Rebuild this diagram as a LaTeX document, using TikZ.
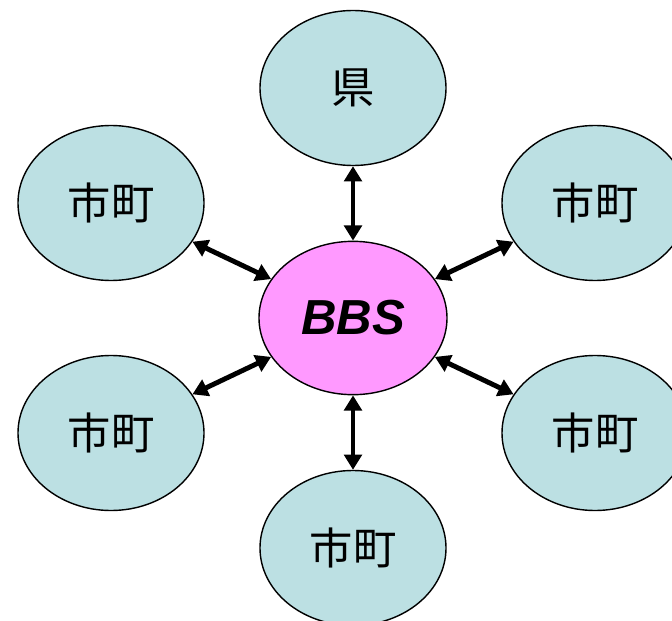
\documentclass[tikz,border=0pt]{standalone}
\usepackage{fontspec}
\setsansfont{Liberation Sans}
\newfontfamily\jpfont{Noto Sans CJK JP}
\usetikzlibrary{shapes.geometric,arrows.meta}

\tikzset{
    kumi/.style={ellipse, draw, line width=1.2pt, fill=ken,
        minimum width=5.58cm, minimum height=4.65cm, inner sep=0pt,
        font=\jpfont\fontsize{37}{42}\selectfont},
    link/.style={line width=4.2pt, {Triangle[length=13pt,width=15pt]}-{Triangle[length=13pt,width=15pt]}}
}
\definecolor{ken}{HTML}{BCE0E3}
\definecolor{bbscol}{HTML}{FF99FF}

\begin{document}
\begin{tikzpicture}[x=0.03cm, y=-0.03cm]
    \useasboundingbox (0,0) rectangle (672,621);
    \clip (0,0) rectangle (672,621);
    \node[kumi] (ken) at (353,88) {県};
    \node[kumi] (shiUL) at (111,203) {市町};
    \node[kumi] (shiUR) at (595,203) {市町};
    \node[kumi] (shiLL) at (111,433) {市町};
    \node[kumi] (shiLR) at (595,433) {市町};
    \node[kumi] (shiB) at (353,548) {市町};
    \node[kumi, fill=bbscol, minimum width=5.64cm, minimum height=4.6cm,
        font=\sffamily\bfseries\itshape\fontsize{42}{46}\selectfont] (bbs) at (353,318) {BBS};
    \foreach \n in {ken,shiUL,shiUR,shiLL,shiLR,shiB}
        \draw[link] (bbs) -- (\n);
\end{tikzpicture}
\end{document}
